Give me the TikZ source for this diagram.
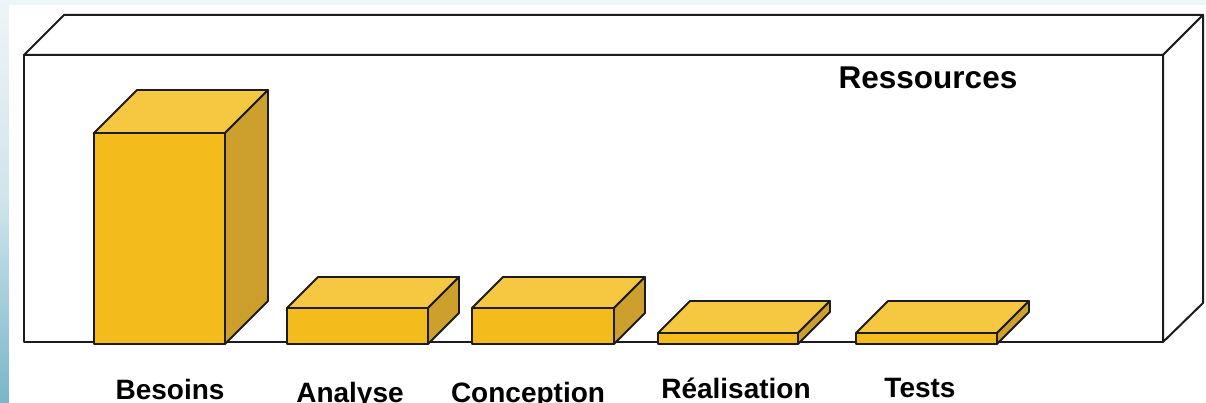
\documentclass[tikz,border=0pt]{standalone}
\usepackage{fontspec}
\setmainfont{Liberation Sans}
\definecolor{frontc}{HTML}{F3BB1B}
\definecolor{topc}{HTML}{F6C842}
\definecolor{sidec}{HTML}{CD9F2C}
\definecolor{edgec}{HTML}{1C1C1C}
\definecolor{paleblue}{HTML}{EEF5F8}
\definecolor{midblue}{HTML}{CFE4EC}
\definecolor{deepblue}{HTML}{78B6CA}
\tikzset{
  frame/.style={draw=edgec, line width=2pt, line join=round, fill=white},
  blockedge/.style={draw=edgec, line width=1.8pt, line join=round},
  label/.style={font=\bfseries\fontsize{28}{30}\selectfont, anchor=base, inner sep=0pt},
  heading/.style={font=\bfseries\fontsize{31.5}{34}\selectfont, anchor=base, inner sep=0pt},
}
% #1 left, #2 top, #3 right, #4 bottom, #5 depth (y grows downwards)
\newcommand\cuboid[5]{%
  \draw[blockedge, fill=topc] (#1,#2) -- (#1+#5,#2-#5) -- (#3+#5,#2-#5) -- (#3,#2) -- cycle;
  \draw[blockedge, fill=sidec] (#3,#2) -- (#3+#5,#2-#5) -- (#3+#5,#4-#5) -- (#3,#4) -- cycle;
  \draw[blockedge, fill=frontc] (#1,#2) rectangle (#3,#4);
}
\begin{document}
\begin{tikzpicture}[x=1pt, y=-1pt]
  \useasboundingbox (0,0) rectangle (1206,403);
  % slide background
  \fill[paleblue] (0,0) rectangle (1206,403);
  \shade[top color=paleblue, bottom color=deepblue, middle color=midblue] (0,0) rectangle (9,403);
  \fill[white] (9,5) rectangle (1206,403);

  % open frame of the chart
  \draw[frame] (24,55) -- (64,15) -- (1203,15) -- (1163,55) -- cycle;
  \draw[frame] (1163,55) -- (1203,15) -- (1203,303) -- (1163,342) -- cycle;
  \draw[frame] (24,55) rectangle (1163,342);

  % resource blocks
  \cuboid{94}{133}{225}{344}{43}
  \cuboid{287}{308}{428}{344}{31}
  \cuboid{472}{308}{614}{344}{31}
  \cuboid{658}{333}{798}{344}{32}
  \cuboid{856}{333}{997}{344}{32}

  % texts
  \node[heading] (title) at (928,89) {Ressources};
  \node[label] (besoins) at (170,399) {Besoins};
  \node[label] (analyse) at (350,402) {Analyse};
  \node[label] (conception) at (528,402) {Conception};
  \node[label] (realisation) at (736,398) {Réalisation};
  \node[label] (tests) at (920,397) {Tests};
\end{tikzpicture}
\end{document}
